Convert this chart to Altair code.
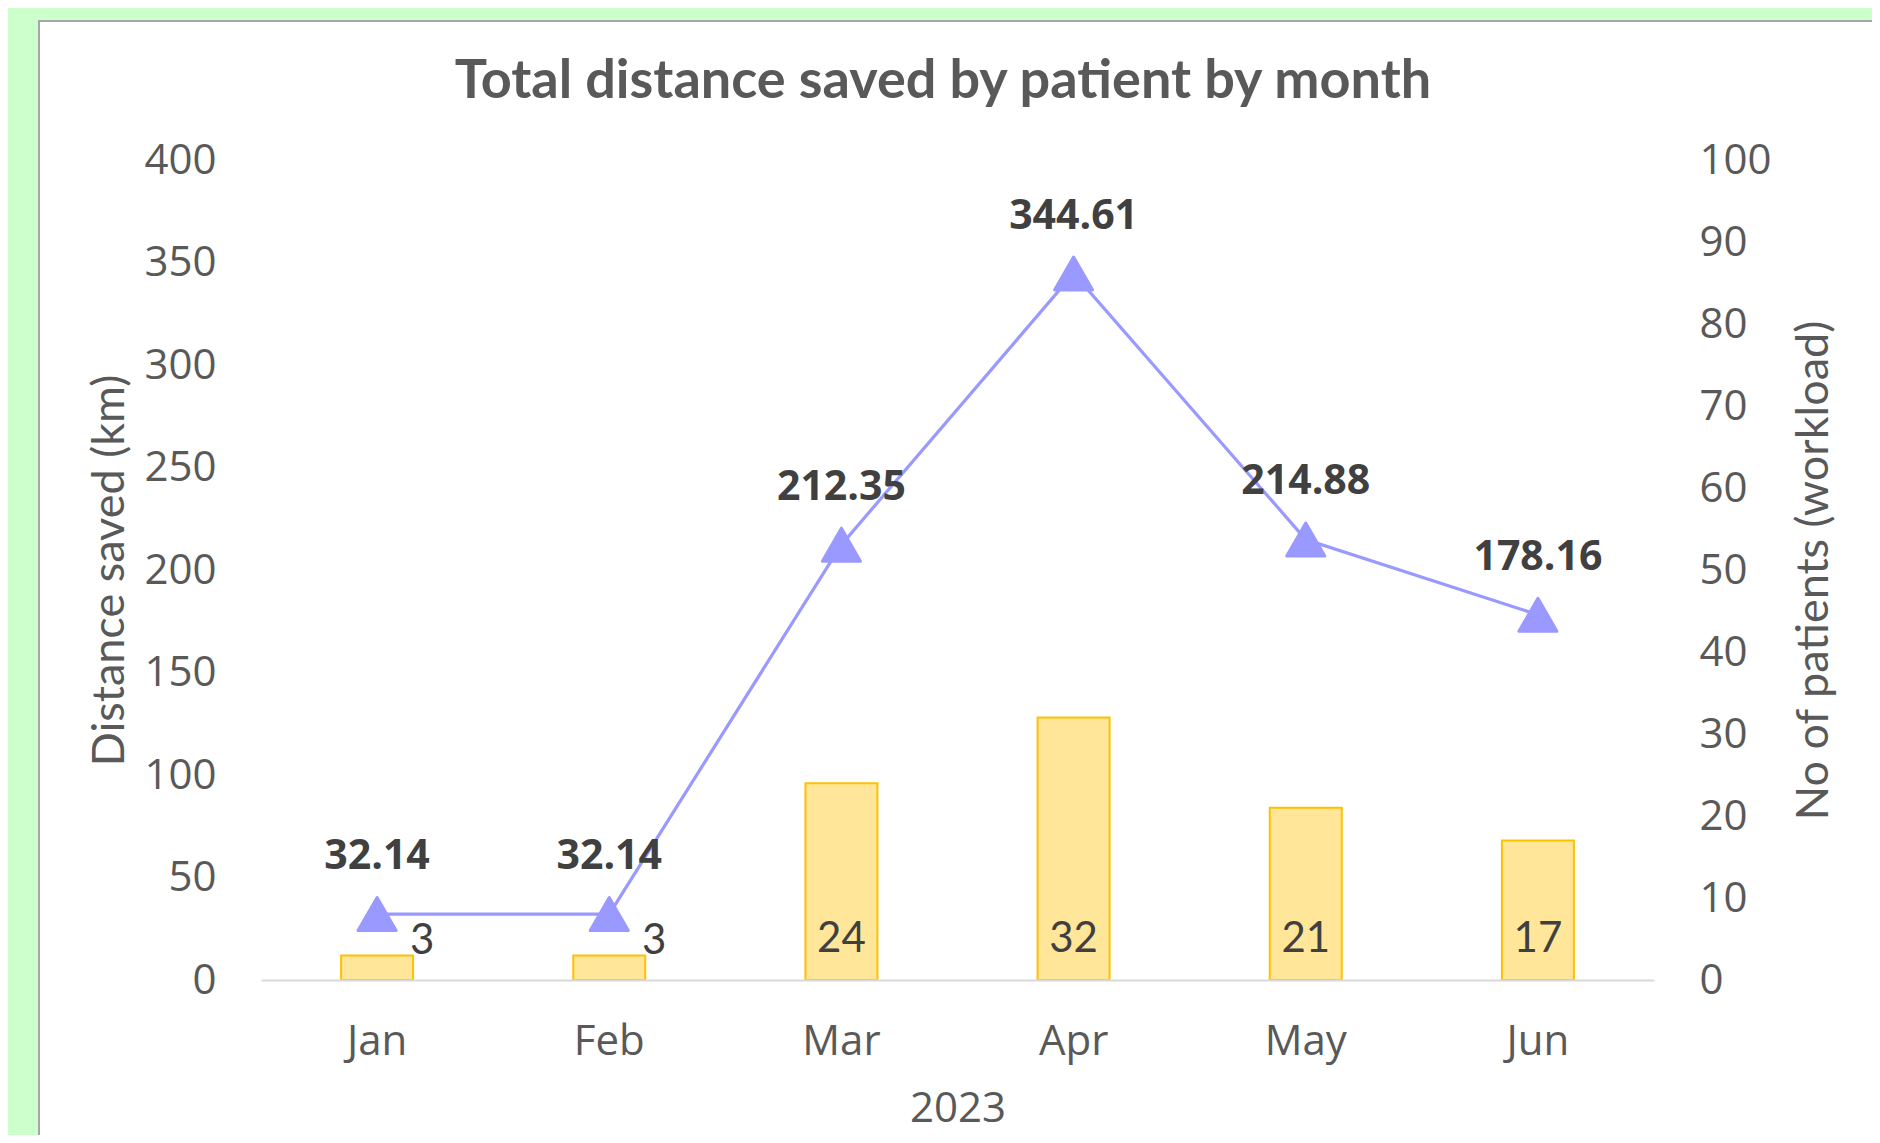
import altair as alt
import pandas as pd

# ---- data ----
months = ["Jan", "Feb", "Mar", "Apr", "May", "Jun"]
distance_km = [32.14, 32.14, 212.35, 344.61, 214.88, 178.16]
distance_labels = ["32.14", "32.14", "212.35", "344.61", "214.88", "178.16"]
patients = [3, 3, 24, 32, 21, 17]
left_ticks = [0, 50, 100, 150, 200, 250, 300, 350, 400]
right_ticks = [0, 10, 20, 30, 40, 50, 60, 70, 80, 90, 100]

chart_title = "Total distance saved by patient by month"
x_title = "2023"
left_title = "Distance saved (km)"
right_title = "No of patients (workload)"

df = pd.DataFrame({
    "month": months,
    "distance": distance_km,
    "dlabel": distance_labels,
    "patients": patients,
})

W, H = 1393, 820
GRAY = "#595959"
DARK = "#404040"
LINE = "#9999FF"

x_enc = alt.X(
    "month:N",
    sort=months,
    scale=alt.Scale(domain=months, paddingInner=0, paddingOuter=0),
    axis=alt.Axis(
        title=x_title, labelAngle=0, labelFont="Open Sans", labelFontSize=42,
        labelColor=GRAY, ticks=False, tickSize=0, labelPadding=61,
        labelBaseline="middle", domainColor="#D9D9D9", domainWidth=2, grid=False,
        titleFont="Open Sans", titleFontSize=42, titleFontWeight="normal",
        titleColor=GRAY, titleX=W / 2, titleY=128, titleAlign="center",
        titleBaseline="middle", zindex=1,
    ),
)

right_axis = alt.Axis(
    orient="right", values=right_ticks, title=right_title, labelFont="Open Sans",
    labelFontSize=42, labelColor=GRAY, labelPadding=45, ticks=False, tickSize=0,
    domain=False, grid=False, titleFont="Lato", titleFontSize=45,
    titleFontWeight="normal", titleColor=GRAY, titleAngle=270, titleX=159,
    titleY=H / 2, titleAlign="center", titleBaseline="middle", zindex=1,
)
right_scale = alt.Scale(domain=[0, 100], nice=False, zero=True)

left_axis = alt.Axis(
    orient="left", values=left_ticks, title=left_title, labelFont="Open Sans",
    labelFontSize=42, labelColor=GRAY, labelPadding=45, ticks=False, tickSize=0,
    domain=False, grid=False, titleFont="Lato", titleFontSize=45,
    titleFontWeight="normal", titleColor=GRAY, titleAngle=270, titleX=-152,
    titleY=H / 2, titleAlign="center", titleBaseline="middle", zindex=1,
)
left_scale = alt.Scale(domain=[0, 400], nice=False, zero=True)

base = alt.Chart(df)

bars = base.mark_bar(
    color="#FFE699", stroke="#FFC000", strokeWidth=2,
    width=alt.RelativeBandSize(0.31),
).encode(
    x=x_enc,
    y=alt.Y("patients:Q", scale=right_scale, axis=right_axis),
)

bar_labels_big = base.transform_filter("datum.patients >= 10").transform_calculate(
    base_y="0"
).mark_text(
    font="Lato", fontSize=42, color=DARK, baseline="middle", dy=-41
).encode(
    x=x_enc,
    y=alt.Y("base_y:Q", scale=right_scale, axis=right_axis),
    text=alt.Text("patients:Q"),
)

bar_labels_small = base.transform_filter("datum.patients < 10").transform_calculate(
    base_y="0"
).mark_text(
    font="Lato", fontSize=42, color=DARK, baseline="middle", dy=-39, dx=45
).encode(
    x=x_enc,
    y=alt.Y("base_y:Q", scale=right_scale, axis=right_axis),
    text=alt.Text("patients:Q"),
)

bar_layer = alt.layer(bars, bar_labels_big, bar_labels_small)

line = base.mark_line(color=LINE, strokeWidth=3.2).encode(
    x=x_enc,
    y=alt.Y("distance:Q", scale=left_scale, axis=left_axis),
)

points = base.mark_point(
    shape="triangle-up", filled=True, size=1450, color=LINE, opacity=1,
    stroke=LINE, strokeWidth=3, strokeJoin="round",
).encode(
    x=x_enc,
    y=alt.Y("distance:Q", scale=left_scale, axis=left_axis),
)

line_labels = base.mark_text(
    font="Open Sans", fontSize=41, fontWeight="bold", color=DARK,
    baseline="middle", dy=-57,
).encode(
    x=x_enc,
    y=alt.Y("distance:Q", scale=left_scale, axis=left_axis),
    text="dlabel:N",
)

line_layer = alt.layer(line, points, line_labels)

panel = alt.Chart(pd.DataFrame({"p": [0]})).mark_rect(
    fill="white", stroke="#A6A6A6", strokeWidth=2
).encode(
    x=alt.value(-222), x2=alt.value(W + 300),
    y=alt.value(-139), y2=alt.value(H + 400),
)

title = alt.Chart(pd.DataFrame({"t": [chart_title]})).mark_text(
    font="Lato", fontSize=54, fontWeight="bold", color=GRAY,
    align="center", baseline="alphabetic",
).encode(text="t:N", x=alt.value(682), y=alt.value(-62))

chart = alt.layer(panel, title, bar_layer, line_layer).resolve_scale(
    y="independent"
).properties(
    width=W, height=H, background="#CCFFCC",
    padding={"left": 253, "top": 152, "right": 218, "bottom": 155},
    autosize=alt.AutoSizeParams(type="none"),
).configure_view(stroke=None)

chart.save("out.html", embed_options={"renderer": "svg", "actions": False})
